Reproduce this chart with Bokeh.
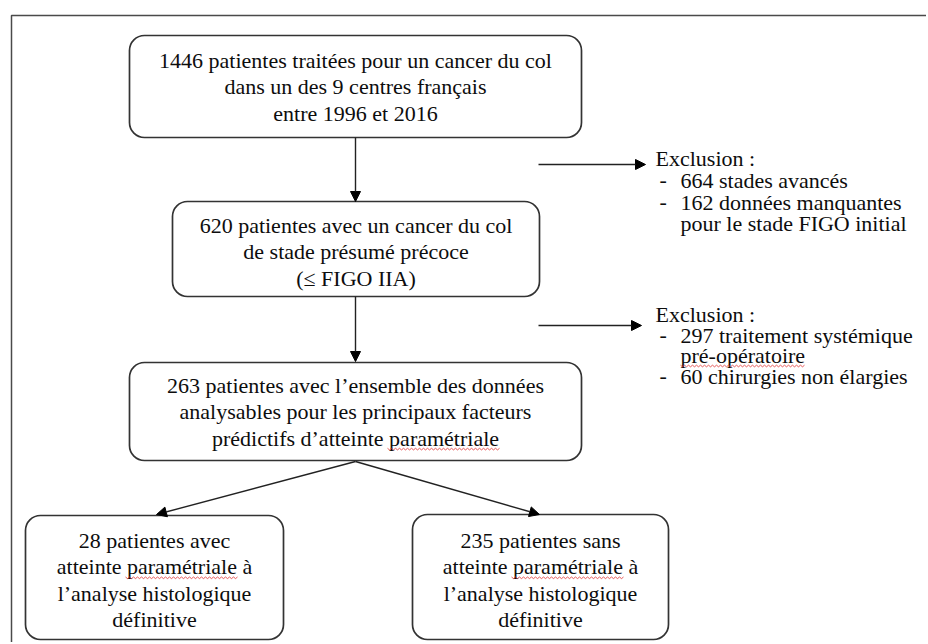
import numpy as np
from bokeh.plotting import figure
from bokeh.models import Range1d, Arrow, NormalHead, ColumnDataSource
from bokeh.core.properties import value
from bokeh.embed import file_html
from bokeh.resources import INLINE

# ---------------- data (texts of the flow chart) ----------------
box1_lines = ["1446 patientes traitées pour un cancer du col",
              "dans un des 9 centres français",
              "entre 1996 et 2016"]
box2_lines = ["620 patientes avec un cancer du col",
              "de stade présumé précoce",
              "(\u2264 FIGO IIA)"]
box3_lines = ["263 patientes avec l\u2019ensemble des données",
              "analysables pour les principaux facteurs",
              "prédictifs d\u2019atteinte paramétriale"]
box4_lines = ["28 patientes avec",
              "atteinte paramétriale à",
              "l\u2019analyse histologique",
              "définitive"]
box5_lines = ["235 patientes sans",
              "atteinte paramétriale à",
              "l\u2019analyse histologique",
              "définitive"]
excl1_title = "Exclusion :"
excl1_items = [("-", "664 stades avancés"),
               ("-", "162 données manquantes"),
               ("", "pour le stade FIGO initial")]
excl2_title = "Exclusion :"
excl2_items = [("-", "297 traitement systémique"),
               ("", "pré-opératoire"),
               ("-", "60 chirurgies non élargies")]

# ---------------- layout ----------------
FONT = value("Liberation Serif")
FS = "22px"
LH = 26.3
TOFF = -7          # baseline correction of the svg text
W, H = 926, 642
INK = "#0d0d0d"

p = figure(width=W, height=H, x_range=Range1d(0, W), y_range=Range1d(H, 0),
           output_backend="svg", toolbar_location=None, min_border=0,
           x_axis_type=None, y_axis_type=None, tools="")
p.grid.visible = False
p.outline_line_color = None
p.background_fill_color = "white"
p.border_fill_color = "white"

# outer frame (right / bottom edges outside the picture)
p.quad(left=[11], right=[990], top=[15], bottom=[700], fill_color=None,
       line_color="#4a4a4a", line_width=1.5)

# boxes: (left, right, top, bottom)
boxes = [(129, 581, 35, 137), (172, 539, 201, 296), (129, 581, 362, 460),
         (25, 283, 515, 639), (412, 668, 514, 639)]
src = ColumnDataSource(dict(l=[b[0] for b in boxes], r=[b[1] for b in boxes],
                            t=[b[2] for b in boxes], b=[b[3] for b in boxes]))
p.quad(left="l", right="r", top="t", bottom="b", source=src, fill_color="white",
       line_color="#333333", line_width=1.7, border_radius=15)

def lines_in_box(lines, box, first_base):
    cx = (box[0] + box[1]) / 2
    xs = [cx] * len(lines)
    ys = [first_base + TOFF + i * LH for i in range(len(lines))]
    p.text(x=xs, y=ys, text=lines, text_font=FONT, text_font_size=FS,
           text_align="center", text_baseline="alphabetic", text_color=INK)

lines_in_box(box1_lines, boxes[0], 67)
lines_in_box(box2_lines, boxes[1], 232)
lines_in_box(box3_lines, boxes[2], 392)
lines_in_box(box4_lines, boxes[3], 547)
lines_in_box(box5_lines, boxes[4], 547)

# arrows
def arrow(x0, y0, x1, y1):
    p.add_layout(Arrow(end=NormalHead(size=10, fill_color="black", line_color="black", line_width=1),
                       x_start=x0, y_start=y0, x_end=x1, y_end=y1,
                       line_color="#222222", line_width=1.4))

arrow(355, 137, 355, 201)
arrow(355, 296, 355, 361)
arrow(355, 461, 156, 514)
arrow(355, 461, 539, 514)
arrow(538, 164, 645, 164)
arrow(538, 325, 641, 325)

def exclusion(title, items, base, step):
    p.text(x=[655], y=[base + TOFF], text=[title], text_font=FONT, text_font_size=FS,
           text_align="left", text_baseline="alphabetic", text_color=INK)
    dx, dy, tt, tx, ty = [], [], [], [], []
    for i, (d, t) in enumerate(items):
        y = base + TOFF + (i + 1) * step
        if d:
            dx.append(659); dy.append(y); tt.append(d)
        tx.append(680); ty.append(y)
    p.text(x=dx, y=dy, text=tt, text_font=FONT, text_font_size=FS,
           text_align="left", text_baseline="alphabetic", text_color=INK)
    p.text(x=tx, y=ty, text=[t for _, t in items], text_font=FONT, text_font_size=FS,
           text_align="left", text_baseline="alphabetic", text_color=INK)

EX1, EX1_STEP = 165, 21.8
EX2, EX2_STEP = 321, 20.5
exclusion(excl1_title, excl1_items, EX1, EX1_STEP)
exclusion(excl2_title, excl2_items, EX2, EX2_STEP)

# red spell-check squiggles (decoration)
def squiggle(x0, x1, y):
    xs = np.arange(x0, x1 + 0.1, 2.0)
    ys = y + np.where(np.arange(len(xs)) % 2 == 0, -0.8, 0.8)
    p.line(xs, ys, line_color="#e03030", line_width=0.8)

squiggle(387, 500, 392 + 2 * LH + 4)
squiggle(125, 238, 547 + LH + 4)
squiggle(511, 624, 547 + LH + 4)
squiggle(680, 805, EX2 + 2 * EX2_STEP + 3.5)

open("out.html", "w").write(file_html(p, INLINE))
